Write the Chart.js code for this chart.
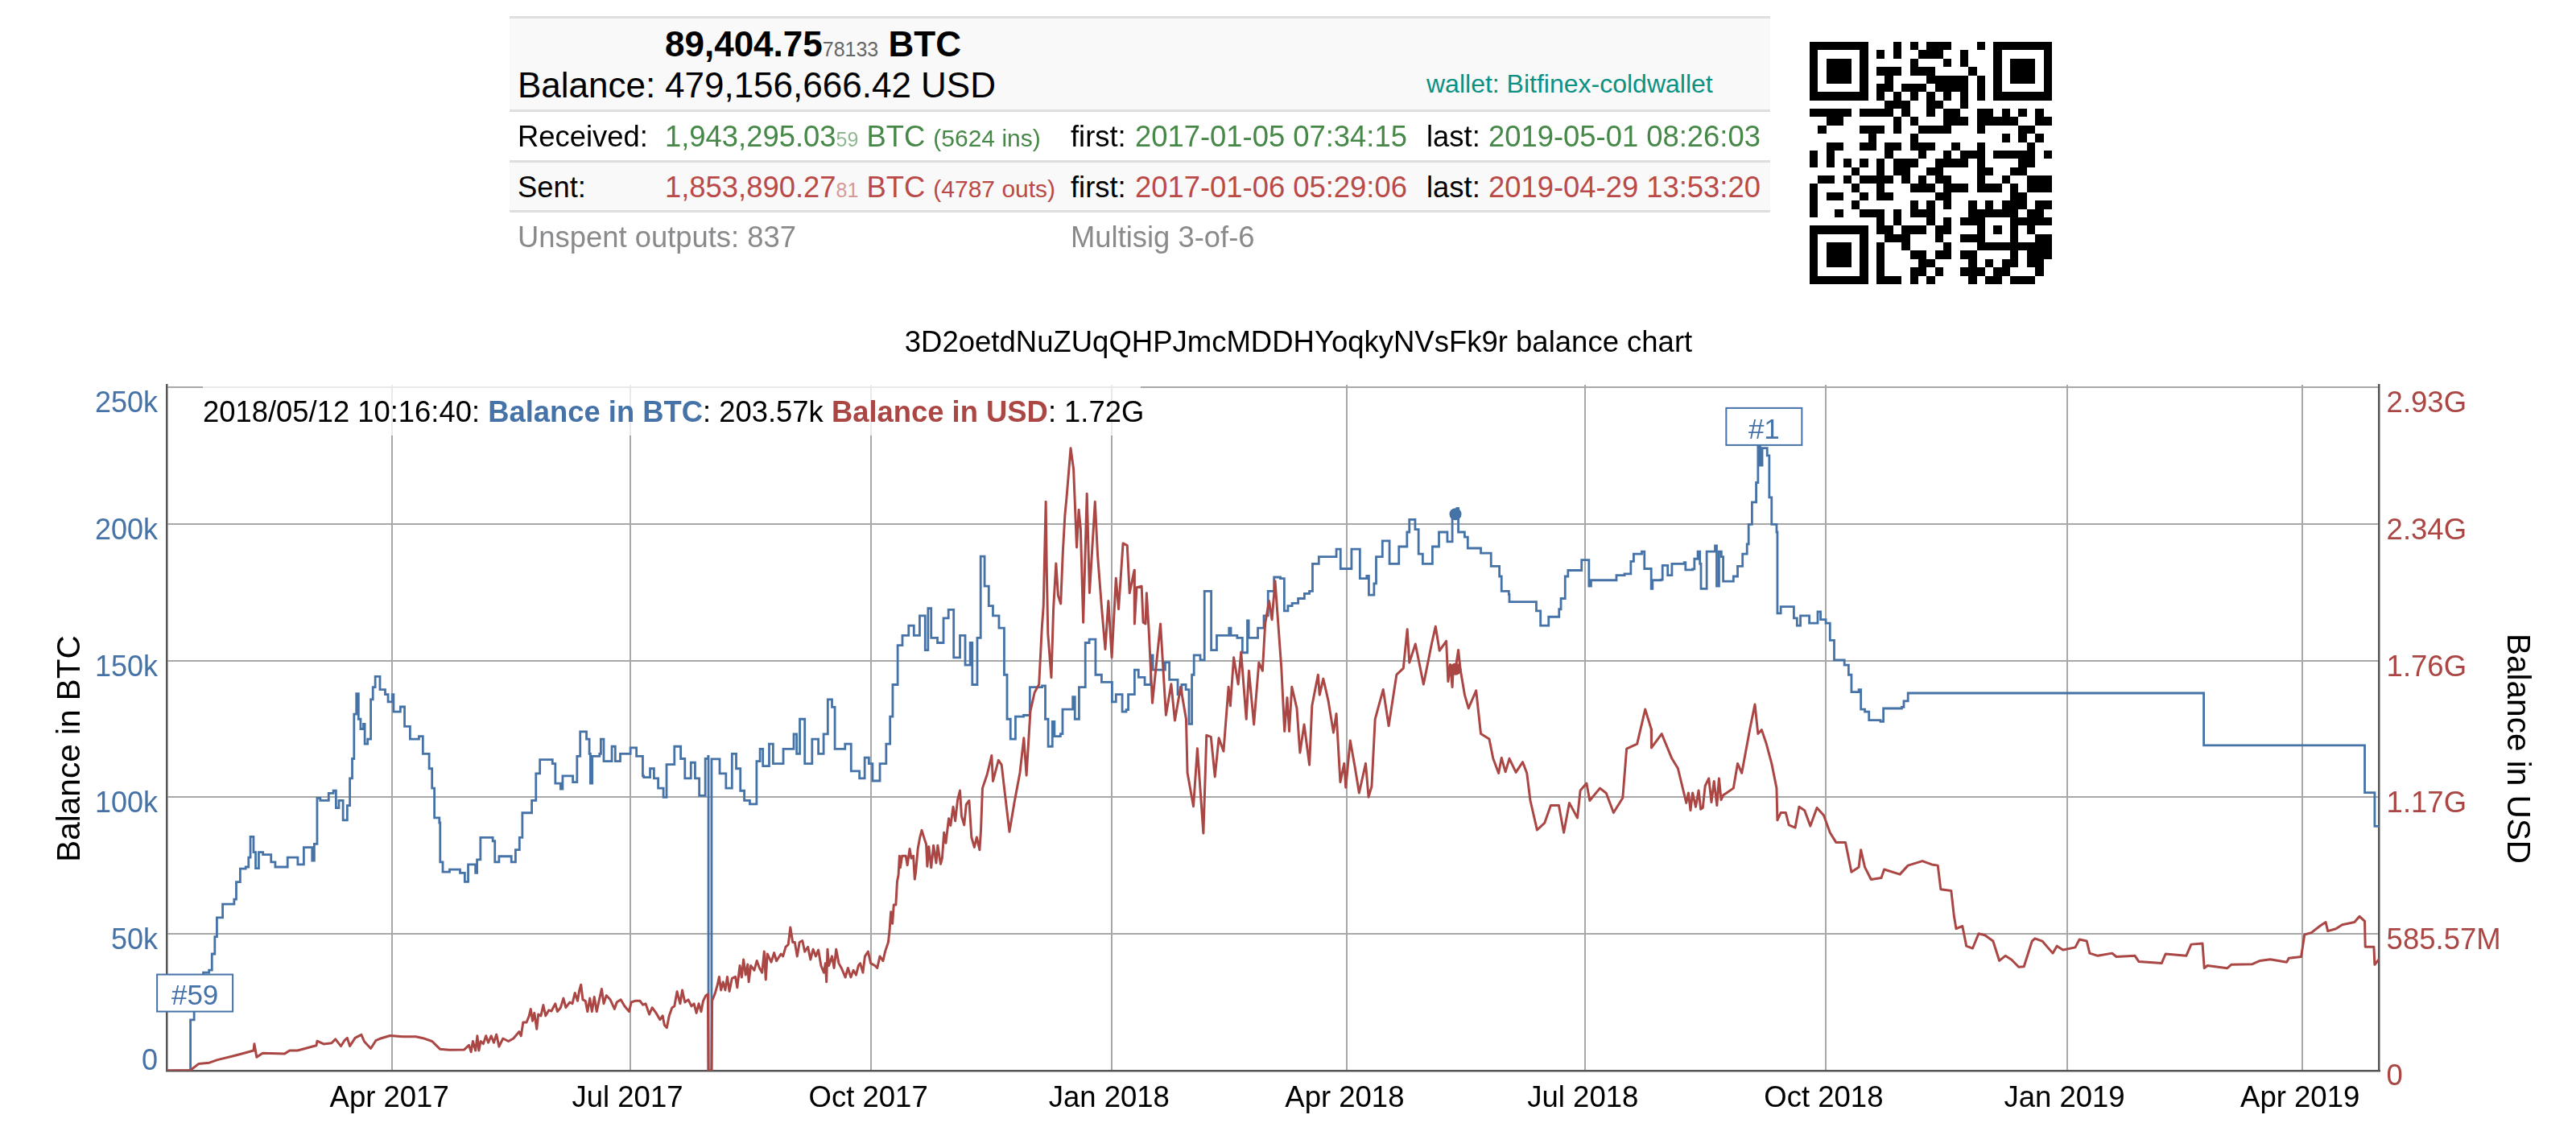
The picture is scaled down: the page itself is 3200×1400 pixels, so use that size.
<!DOCTYPE html>
<html>
<head>
<meta charset="utf-8">
<title>3D2oetdNuZUqQHPJmcMDDHYoqkyNVsFk9r balance chart</title>
<script src="https://cdn.jsdelivr.net/npm/chart.js@4/dist/chart.umd.js"></script>
<style>
html,body{margin:0;padding:0;background:#fff;width:3200px;height:1400px;overflow:hidden;font-family:"Liberation Sans",Arial,sans-serif;color:#000}
#chart{position:absolute;left:0;top:0;width:3200px;height:1400px}
.t{position:absolute;white-space:pre;line-height:1}
.f44{font-size:44px}.f36{font-size:36.4px}.f32{font-size:32px}
.s25{font-size:25px}.s30{font-size:30px}
.g{color:#468847}.r{color:#b94a48}.gy{color:#888a8c}
.band{position:absolute;left:633px;width:1566px;background:#f9f9f9}
.rule{position:absolute;left:633px;width:1566px;height:3px;background:#dedede}
#legend{position:absolute;left:252px;top:478px;width:1165px;height:63px;line-height:67px;font-size:36.4px;background:rgba(255,255,255,.75);white-space:pre}
#qr{position:absolute;left:2248.3px;top:52.3px;width:301px;height:301px}
</style>
</head>
<body>
<canvas id="chart" width="3200" height="1400"></canvas>

<div class="band" style="top:21px;height:116px"></div>
<div class="band" style="top:200px;height:62px"></div>
<div class="rule" style="top:20px"></div>
<div class="rule" style="top:136px"></div>
<div class="rule" style="top:199px"></div>
<div class="rule" style="top:261px"></div>

<div class="t f44" style="left:826px;top:33px;font-weight:bold">89,404.75<span class="s25" style="font-weight:normal;color:#666">78133</span> BTC</div>
<div class="t f44" style="left:643px;top:84px">Balance:</div>
<div class="t f44" style="left:826px;top:84px">479,156,666.42 USD</div>
<div class="t f32" style="left:1772px;top:88px;color:#0a9183">wallet: Bitfinex-coldwallet</div>

<div class="t f36" style="left:643px;top:152px">Received:</div>
<div class="t f36 g" style="left:826px;top:152px">1,943,295.03<span class="s25" style="color:#90b890">59</span> BTC <span class="s30">(5624 ins)</span></div>
<div class="t f36" style="left:1330px;top:152px">first:</div>
<div class="t f36 g" style="left:1410px;top:152px">2017-01-05 07:34:15</div>
<div class="t f36" style="left:1772px;top:152px">last:</div>
<div class="t f36 g" style="left:1849px;top:152px">2019-05-01 08:26:03</div>

<div class="t f36" style="left:643px;top:215px">Sent:</div>
<div class="t f36 r" style="left:826px;top:215px">1,853,890.27<span class="s25" style="color:#d59a98">81</span> BTC <span class="s30">(4787 outs)</span></div>
<div class="t f36" style="left:1330px;top:215px">first:</div>
<div class="t f36 r" style="left:1410px;top:215px">2017-01-06 05:29:06</div>
<div class="t f36" style="left:1772px;top:215px">last:</div>
<div class="t f36 r" style="left:1849px;top:215px">2019-04-29 13:53:20</div>

<div class="t f36 gy" style="left:643px;top:277px">Unspent outputs: 837</div>
<div class="t f36 gy" style="left:1330px;top:277px">Multisig 3-of-6</div>

<svg id="qr" viewBox="0 0 29 29" shape-rendering="crispEdges"></svg>

<div id="legend">2018/05/12 10:16:40: <b style="color:#4572A7">Balance in BTC</b>: 203.57k <b style="color:#AA4643">Balance in USD</b>: 1.72G</div>

<script>
// ---------- chart data (days since 2017-01-05; BTC in thousands; USD in billions) ----------
const chartTitle = "3D2oetdNuZUqQHPJmcMDDHYoqkyNVsFk9r balance chart";
const btcLabel = "Balance in BTC";
const usdLabel = "Balance in USD";

const xTickDays = [86,177,269,361,451,542,634,726,816];
const xTickLabels = ["Apr 2017","Jul 2017","Oct 2017","Jan 2018","Apr 2018","Jul 2018","Oct 2018","Jan 2019","Apr 2019"];
const btcTickValues = [0,50,100,150,200,250];
const btcTickLabels = ["0","50k","100k","150k","200k","250k"];
const usdTickValues = [0,0.58557,1.17114,1.75671,2.34228,2.92785];
const usdTickLabels = ["0","585.57M","1.17G","1.76G","2.34G","2.93G"];

const btcDays = [
0,9.1,10.5,12,14,16.2,17.3,18.4,19.2,21.4,25.8,26.6,28.1,30.2,31.3,32,33.2,34,35.2,36.8,38.3,39.9,41.5,45.4,46.2,49.3,50.1,52.4,54.8,55.6,
56.4,57.5,58.7,61.1,61.9,63.7,64.7,65.8,67.4,69,70,70.9,71.6,72.5,73.3,74.1,75.2,75.7,76.8,78,78.8,79.7,81.5,83.5,84.6,86.2,86.7,89.3,90.9,93,
96.4,97.9,100.3,101.4,102.3,104.2,104.5,105.5,108.1,112.1,113.9,115.2,118,118.6,119.9,124.6,125.4,127,131.7,133.3,134.8,135.9,137.6,139.5,141.1,142.6,147.4,148.5,150.5,151.3,
155.2,156.8,158,160.4,161.5,161.9,162.6,165.4,165.9,167,170.1,171.4,173.3,177.2,179.5,181.9,182.3,184.7,186.2,187.8,189.8,191,194,196.4,198,200.3,201.9,203.5,205.8,206.9,
207,208.2,210.5,211.3,213.7,216,217.6,219.2,220.7,222.8,225.4,226.7,227.8,230.2,231.7,235.6,239.6,240.7,241.9,243.8,246.6,249,251,252.6,254.2,255.3,259.2,261.5,264.7,266.7,
268.3,269.7,272.5,274.9,276.4,277.4,279.3,281.1,283.5,285.5,287.7,289.8,290.9,292.1,294.5,296.8,298.7,300.7,303.1,305.1,307,307.8,309.7,311,312.5,314.1,315.7,318,320,321.1,
322.4,324.3,327.4,329.8,334.5,335.7,336.8,338.4,339.2,341.5,342.3,346.2,347,348.6,351,352.5,354.9,357.2,359.6,361.2,362.7,365.1,366.6,367.4,369.8,371.3,373.7,376,376.8,381.5,
383.1,386.3,387.8,389.4,390.6,391.7,392.5,394.9,396.5,399.1,401.2,405.9,406.6,409,411,412.9,413.4,416.9,419.2,420.8,423.1,425.5,427,428.4,430,432.3,434.7,436.6,437.8,440.2,
445.7,446.9,448.5,450.4,452.7,455,455.9,458.5,459.3,461.3,462.1,464.5,466.5,467.2,469.5,470.8,473.9,474.8,477,478.3,479.9,483,483.6,486.1,489.3,491.2,492.4,493,493.5,495.9,
497.1,502.1,505,506,509.2,510,512.8,513,521,523.3,524.9,528,532,532.7,534.3,535.4,539.5,540.6,543.4,544.2,553.6,553.9,557,559.4,560.5,563.6,564.6,567.2,567.7,570.9,
571.5,573.5,575.1,579.8,580.3,583,583.7,585,585.8,586.2,588.4,591.6,592.2,593.1,594,594.7,598.6,600.2,602.1,603.8,604.4,605.7,607.3,608,608.8,609.6,611.5,612.3,613.2,615.1,
615.4,616.7,620.3,621.7,622.9,624.2,627.3,627.6,630.8,631.9,633.9,635.5,637.1,641,642.6,643.7,646.5,647.3,648.8,650.4,654.8,655.9,662.9,663.7,665.3,778.3,839.8,843.6,845.35
];
const btcValues = [
0,18.6,22,30,35.9,36.8,42.7,49,56,60.9,62.7,69,73.9,74.5,78,85.6,79.9,74,79.9,79,79,76.3,74.5,74.5,78,78,75.4,81.7,81.7,76.8,
82.9,99.7,98.8,98.8,101.5,102.4,96.1,98.8,91.6,97,106.9,114.1,130.4,137.9,128.6,125,126.8,119.5,121.3,135.8,140.3,144.2,139.4,137.6,134.9,137.6,131.3,133.1,125.9,121.3,
122.3,115.9,110.5,103.3,92.5,90.7,76.3,72.7,73.6,72.3,69.1,75.4,72.3,77.2,85.3,84,76.3,78.4,76.3,80.8,85.3,94.3,94.3,98.8,108.7,113.8,112.3,105.1,103,107.8,
105.5,115,124,121.3,115.9,105.1,115,115.9,121.3,113.2,118.6,113.2,115.9,118.1,115,107.8,107.3,110.5,106.9,103.3,100,112,118.6,114.1,106.9,112.7,106.9,100.6,114.1,115,
0,114,114,108.7,103.3,115.9,110.5,102.4,98.8,97.5,113.2,117.7,111.4,119.5,112.3,117.7,123.1,115.9,128.6,112.3,121.3,115.9,123.1,135.8,133,117.7,119.5,109.6,106.9,114.5,
112.3,106,112.3,119.5,129.5,141.2,155.6,159.2,162.8,159.2,166.4,153.8,169.1,158.3,156.5,165.5,168.6,151.1,159.2,148.4,156.5,141.2,158.3,188.1,177.2,170,166.4,161.9,144.8,128.6,
121.3,129.5,130,140.3,140.8,128.6,118.6,127.7,122.3,123.2,132.2,136.7,128.6,140.3,156.5,157.8,144.8,142.1,142.1,134.9,137.6,131.3,132,137.6,146.6,143.9,141.2,152,146.6,149.3,
143,137.6,141.2,139.4,126.8,144.8,152,150.2,175.4,153.8,159.2,161.9,159.2,158.3,152.9,164.6,158.3,161.9,166.4,175.4,180.5,180,168.2,170,171,172.7,174.5,175.4,185.4,188,
188,190.8,183.6,183.6,190.8,190.8,180,181,174,178.2,188,193.8,193.8,185.4,185.4,191.7,197,201.6,198,189,185.4,185.4,191.7,197,193.5,202.5,203.57,205.7,197,195.2,
191.1,189.3,189.3,184.5,180.8,175.4,174.2,171.5,171.5,168.2,162.8,166,168.8,172.7,180.8,183,183,186.8,177.2,179.4,179.4,181.2,181.7,186.3,189,189.9,183.6,176.3,179.4,179.6,
184.8,181.2,185.4,185.9,183.2,183.5,187.2,189.9,185.4,176.3,189.9,192,177.2,189.9,188,179,180.8,184.5,189,192.6,199.8,207.9,215.1,228.6,221.4,227.7,225,209.7,199.8,197,
167.3,169.7,169.7,165.5,162.8,166.4,166.4,163.7,167.9,165,163.7,157.4,150.2,148.4,144.8,138.5,139.4,132.2,131.3,128.2,127.7,132.5,133,135.2,138.1,119,101.7,89.4,89.4
];

const usdDays = [
0,9.1,12.2,16.3,19.4,25.5,29.6,33.2,33.5,34.4,36.7,45,47,50,57.2,57.5,60,63,64.5,66.6,
68,69,70,72,74.4,75.5,78,80,81.5,85.4,90.1,95.2,98,101.4,103,104.5,108,113.7,115.5,116.3,
117,118,118.7,119.3,120,121,122,122.9,124,125,126,127,128.5,130.6,132.5,134.7,135.4,136.2,137.5,138.5,
139.1,139.8,140.5,141.4,142,143,143.9,144.8,146,147,148.5,149.3,150.5,151.6,152.5,154,155,156,157,157.7,
158.3,159,160,160.8,161.7,162.5,163.4,164.3,165.2,166.2,167,168,169.5,171.1,172,173.5,175,176.7,177.5,179,
180.8,182,183,184.4,185.5,187,188.5,189.5,190.2,191.1,192,193.1,194,195,196.2,197,198,199.3,200.5,201.5,
202.4,203.3,204.2,205,206,206.8,207,208.2,208.4,209.5,210.5,211.1,211.8,212.6,213.4,214.2,215,216,217.3,218,
219,219.7,220.4,221.2,222,222.4,223.2,224.5,225.5,226.5,227.5,228.3,228.9,229.5,231,232.1,233,234.7,235.5,236.5,
237.5,238.3,239.2,240,240.9,241.8,242.9,243.8,245,246,247,248,249,250,251.1,251.7,252.1,252.5,253,254.2,
255,255.8,256.8,257.8,259.3,260.3,261.4,262.4,263.4,264.3,265,266,266.8,268,269,270.6,271.5,272.5,273.7,274.5,
275.7,276.2,276.7,277.3,277.8,278.6,279.1,279.6,280,280.3,281,282.4,283,283.9,284.5,285.3,285.8,286.2,287,287.8,
288.5,289.6,290.2,290.6,291.2,292.1,293,294,294.6,295.7,296.3,297,297.7,298.8,299.5,300.5,301.3,302.2,303.1,303.7,
304.7,305.5,306.6,307.5,308.6,309.5,310.6,311.1,311.7,313.5,315.2,315.7,317.8,319,320.3,322,323.9,326,327.5,328.5,
329.5,330,331.6,333.3,334.4,335,335.9,336.2,336.7,338,338.8,339.8,340.6,341.6,342.4,343.2,343.8,345.4,346.5,347.7,
348.5,349.2,350.2,351.6,352.6,354.7,355.7,357.2,358.6,359.8,361.1,362.7,363.7,365.4,367,367.9,369.7,369.8,370.6,372.5,
373.1,374,374.4,375.2,376.6,379.7,381.8,383.8,385.2,387.4,389.5,390,392.3,393.8,396.1,397.3,399,400.5,402,403.8,
405.7,406.4,407.7,409.4,410.5,412.5,413.5,415.4,417.3,418.7,419.7,421.2,422.3,423.5,425.9,427.1,428.1,428.9,429.9,431.8,
433,434.6,436.6,437.6,439.9,440.5,441.9,443.8,445.8,446.9,448.4,449.9,450.5,452.2,454,455.6,458.1,459.2,460.4,461.7,
464.8,466.9,469.9,472.5,474,474.8,477.1,480.2,483.3,484.8,486.3,488.9,489.6,490.4,491.2,491.6,492.4,493.5,494.3,495.9,
497.4,500.3,502.1,505.3,506.8,508.9,510,511.5,513,515.5,518.1,519.7,521,523.6,526.5,528.8,531.9,533.8,535.9,539,
540.1,542.5,543.7,547.6,550,552.8,556.3,557.8,561.8,564.9,567.2,567.3,571.2,575.1,577.4,580.6,581.4,582.2,583,584.2,
585.3,586.1,586.9,587.8,589.2,590.2,591.2,592.3,593.1,593.9,594.7,596,598.6,600.2,601.8,604.9,606.8,608,609.4,611.2,
613.2,615.1,615.4,616.7,618.6,619.8,622.2,623.7,625.8,628,630.5,633.1,635.5,637.8,641.4,643.7,646.5,647.3,648.8,651.2,
655.1,656.2,662.2,665.3,670.8,674.4,676.7,677.8,681.8,682.9,683.7,686.1,687.6,690,692.3,694.7,697.8,700.2,702.5,704.9,
707.6,709.6,712.7,713.8,716.6,720.6,722.2,724.5,729.2,730.8,733.6,734.7,737.8,743.3,744.9,752,753.5,762.2,763.7,771.6,
773.5,777.8,778.5,779.7,787.3,788.8,796.7,799.8,803.7,810,810.8,815.5,816.8,819.4,822.6,824.9,825.7,828.8,831.2,835.9,
837.8,839.8,840,843.3,843.6,845.35
];
const usdValues = [
0,.002,.029,.034,.046,.063,.075,.086,.115,.058,.075,.072,.086,.086,.108,.127,.114,.118,.135,.105,
.13,.14,.105,.14,.154,.125,.095,.13,.137,.15,.146,.146,.139,.126,.108,.092,.089,.09,.109,.08,
.126,.086,.149,.086,.126,.115,.149,.12,.149,.12,.155,.103,.138,.126,.138,.167,.149,.207,.207,.235,
.264,.213,.247,.178,.241,.235,.281,.235,.259,.255,.287,.253,.27,.31,.27,.293,.287,.333,.299,.345,
.368,.304,.299,.253,.31,.253,.316,.253,.299,.35,.287,.322,.304,.264,.293,.304,.276,.253,.293,.299,
.299,.282,.287,.241,.27,.247,.218,.235,.195,.184,.235,.27,.276,.339,.287,.345,.293,.304,.276,.287,
.247,.287,.253,.299,.322,.328,0,0,.299,.33,.37,.402,.345,.38,.345,.402,.34,.395,.402,.356,
.45,.40,.476,.41,.455,.38,.45,.43,.471,.44,.42,.51,.39,.50,.465,.505,.47,.50,.49,.53,
.54,.614,.55,.55,.49,.55,.557,.51,.53,.476,.52,.49,.517,.45,.42,.46,.38,.52,.45,.49,
.44,.52,.46,.44,.40,.44,.40,.43,.41,.45,.46,.42,.49,.51,.46,.45,.44,.49,.47,.51,
.55,.60,.68,.63,.71,.71,.81,.84,.92,.87,.92,.92,.88,.95,.91,.92,.82,.85,.95,1.0,
1.03,.99,.97,.875,.96,.87,.965,.89,.965,.885,.91,1.02,.975,1.08,1.05,1.13,1.07,1.16,1.2,1.09,
1.052,1.14,1.157,1.0,.957,1.0,.946,1.03,1.21,1.27,1.35,1.24,1.33,1.31,1.184,1.023,1.15,1.276,1.425,1.265,
1.448,1.54,1.62,1.655,1.897,1.99,2.437,2.173,1.874,1.684,1.977,2.173,2.035,2.0,2.219,2.38,2.45,2.667,2.576,2.242,
2.403,2.32,1.92,2.472,2.047,2.437,2.208,1.989,1.805,2.012,1.77,2.11,1.977,2.259,2.25,2.046,2.144,1.914,2.07,2.075,
1.92,1.914,2.046,1.9,1.575,1.914,1.523,1.656,1.5,1.644,1.506,1.276,1.132,1.38,1.017,1.437,1.43,1.259,1.425,1.368,
1.644,1.563,1.77,1.655,1.793,1.506,1.713,1.483,1.748,1.713,1.914,2.012,1.932,2.098,1.725,1.454,1.598,1.454,1.644,1.552,
1.362,1.483,1.31,1.563,1.696,1.61,1.679,1.586,1.448,1.529,1.236,1.316,1.213,1.414,1.3,1.19,1.316,1.172,1.218,1.506,
1.633,1.477,1.696,1.724,1.891,1.748,1.828,1.655,1.828,1.903,1.799,1.84,1.667,1.74,1.643,1.734,1.72,1.802,1.717,1.611,
1.552,1.628,1.443,1.421,1.337,1.274,1.34,1.28,1.337,1.278,1.322,1.274,1.157,1.031,1.062,1.136,1.136,1.02,1.147,1.083,
1.2,1.231,1.157,1.21,1.189,1.105,1.168,1.379,1.4,1.548,1.464,1.383,1.443,1.337,1.295,1.147,1.19,1.115,1.19,1.13,
1.2,1.12,1.126,1.22,1.252,1.15,1.24,1.136,1.252,1.16,1.18,1.19,1.21,1.316,1.275,1.464,1.569,1.443,1.46,1.4,
1.316,1.21,1.073,1.105,1.105,1.052,1.041,1.13,1.115,1.048,1.126,1.094,1.02,.978,.978,.851,.872,.946,.872,.819,
.826,.862,.841,.879,.898,.883,.879,.777,.771,.661,.608,.619,.534,.524,.587,.58,.555,.471,.492,.475,
.444,.446,.555,.566,.555,.503,.534,.517,.528,.562,.555,.503,.492,.503,.488,.492,.467,.46,.5,.492,
.541,.545,.439,.45,.439,.454,.456,.471,.477,.465,.482,.488,.583,.591,.619,.636,.598,.608,.625,.636,
.661,.64,.53,.53,.454,.479
];

const highlightDay = 492.4;
const noteLabels = ["#59","#1"];
const noteDays = [10.8,610.3];
const noteValues = [28.4,235.6];

// QR code: black module columns for each row, outside the finder squares
const qrBlack = [
[10,12,14,15,16,20],[8,10,13,14,15,18],[12,16,18],[8,9,10,12,13,14,19],[9,14,15,16,17,18,20],[8,9,11,12,13,15,16,17,18,20],[8,10,12,14,16,18,20],
[9,10,11,14,15,18],[0,1,2,3,4,6,7,8,9,11,14,16,17,20,21,23,25,27],[2,3,10,12,16,17,18,20,21,22,23,24,27,28],[1,6,7,8,10,13,14,15,16,20,25,26],
[7,12,23,25,27],[2,3,6,7,9,10,12,13,14,17,20,26],[0,2,9,13,16,18,19,20,22,23,24,25,26,28],[0,2,4,6,8,10,11,12,15,16,17,18,20,25,26],
[5,8,10,11,14,15,20,21,24,25],[1,2,4,6,7,8,9,11,13,15,16,20,23,26,27,28],[0,5,8,12,13,14,16,17,18,20,21,22,24,26,27,28],
[0,2,3,6,8,9,15,16,24,25],[0,5,12,14,16,19,21,23,24,25,27,28],[0,3,6,7,8,10,12,13,14,19,20,21,22,23,24,26,27],
[8,10,14,16,18,19,20,24,25,26,27,28],[8,9,11,12,13,15,16,20,22,24,26],[9,10,11,15,18,19,20,24,27,28],[8,11,16,20,21,22,23,24,25,26,27,28],
[8,12,13,15,16,18,19,24,26,27,28],[8,13,14,19,21,23,24,26,27],[8,12,13,15,18,19,20,22,23,27],[8,9,10,12,14,19,21,22,24,25,26]
];

// ---------- QR ----------
(function(){
  const svg = document.getElementById('qr');
  let s = '';
  const rect = (x,y,w,h,c) => '<rect x="'+x+'" y="'+y+'" width="'+w+'" height="'+h+'" fill="'+c+'"/>';
  [[0,0],[22,0],[0,22]].forEach(p => {
    s += rect(p[0],p[1],7,7,'#000') + rect(p[0]+1,p[1]+1,5,5,'#fff') + rect(p[0]+2,p[1]+2,3,3,'#000');
  });
  qrBlack.forEach((cols,r) => cols.forEach(c => { s += rect(c,r,1,1,'#000'); }));
  svg.innerHTML = s;
})();

// ---------- chart ----------
const BLUE = '#4572A7', RED = '#AA4643', GRID = 'rgb(168,168,168)', AXIS = '#555';
const FONT = '"Liberation Sans", Arial, sans-serif';
Chart.defaults.font.family = FONT;

const toPoints = (xs, ys) => xs.map((x,i) => ({x:x, y:ys[i]}));
const btcHi = btcDays.indexOf(highlightDay);
const usdHi = usdDays.indexOf(highlightDay);

// per-axis vertical nudges of the tick labels (the first and last sit inside the plot)
const labelNudge = {
  y:  t => t === 0 ? -11 : t === 250 ? 21 : 9,
  y2: t => t === 0 ? 8 : t === 2.92785 ? 21 : 9
};

const axisTweaks = {
  id:'axisTweaks',
  beforeDraw(chart){
    if (chart.$tweaked) return;
    chart.$tweaked = true;
    ['y','y2'].forEach(id => {
      const sc = chart.scales[id];
      sc.getLabelItems().forEach((item,i) => {
        item.options.translation[1] += labelNudge[id](sc.ticks[i].value);
      });
      const orig = sc.drawTitle;
      sc.drawTitle = function(){
        this.top += 26; this.bottom += 26;
        orig.apply(this, arguments);
        this.top -= 26; this.bottom -= 26;
      };
    });
  }
};

const notes = {
  id:'notes',
  afterDatasetsDraw(chart){
    const {ctx, scales} = chart;
    ctx.save();
    noteLabels.forEach((text,i) => {
      const cx = scales.x.getPixelForValue(noteDays[i]);
      const cy = scales.y.getPixelForValue(noteValues[i]);
      ctx.fillStyle = '#fff';
      ctx.strokeStyle = BLUE;
      ctx.lineWidth = 2;
      ctx.fillRect(cx-47, cy-23, 94, 46);
      ctx.strokeRect(cx-47, cy-23, 94, 46);
      ctx.fillStyle = BLUE;
      ctx.font = '35px ' + FONT;
      ctx.textAlign = 'center';
      ctx.textBaseline = 'middle';
      ctx.fillText(text, cx, cy+5);
    });
    ctx.restore();
  }
};

new Chart(document.getElementById('chart'), {
  type:'line',
  plugins:[axisTweaks, notes],
  data:{
    datasets:[
      {label:btcLabel, yAxisID:'y', data:toPoints(btcDays,btcValues), order:2, stepped:true,
       borderColor:BLUE, backgroundColor:BLUE, borderWidth:2.8, borderJoinStyle:'miter', tension:0,
       pointRadius:c => c.dataIndex===btcHi ? 7.5 : 0, pointBorderWidth:0, pointBackgroundColor:BLUE, pointHoverRadius:0},
      {label:usdLabel, yAxisID:'y2', data:toPoints(usdDays,usdValues), order:1,
       borderColor:RED, backgroundColor:RED, borderWidth:3, borderJoinStyle:'round', tension:0,
       pointRadius:c => c.dataIndex===usdHi ? 7.5 : 0, pointBorderWidth:0, pointBackgroundColor:RED, pointHoverRadius:0}
    ]
  },
  options:{
    responsive:false,
    devicePixelRatio:1,
    animation:false,
    events:[],
    layout:{padding:{left:26,right:0,top:405,bottom:0}},
    plugins:{
      legend:{display:false},
      tooltip:{enabled:false},
      title:{display:true,text:chartTitle,color:'#000',font:{size:36.5,weight:'normal',lineHeight:1.2},padding:{top:0,bottom:29.2}}
    },
    scales:{
      x:{
        type:'linear',min:0,max:845.35,
        afterBuildTicks:s => { s.ticks = xTickDays.map(v => ({value:v})); },
        afterFit:s => { s.height = 70; },
        grid:{color:GRID,lineWidth:2,drawTicks:false},
        border:{color:AXIS,width:2.5},
        ticks:{autoSkip:false,maxRotation:0,color:'#000',font:{size:36.5},padding:13,labelOffset:-3,
          callback:v => xTickLabels[xTickDays.indexOf(v)]}
      },
      y:{
        position:'left',min:0,max:250.88,
        afterBuildTicks:s => { s.ticks = btcTickValues.map(v => ({value:v})); },
        afterFit:s => { s.width = 181; },
        grid:{color:GRID,lineWidth:2,drawTicks:false},
        border:{color:AXIS,width:2.5},
        ticks:{color:BLUE,font:{size:36},padding:11,callback:v => btcTickLabels[btcTickValues.indexOf(v)]},
        title:{display:true,text:btcLabel,color:'#000',font:{size:40.5,weight:'normal'},padding:{top:38,bottom:0}}
      },
      y2:{
        position:'right',min:0,max:2.9382,
        afterBuildTicks:s => { s.ticks = usdTickValues.map(v => ({value:v})); },
        afterFit:s => { s.width = 244.4; },
        grid:{drawOnChartArea:false,drawTicks:false},
        border:{color:AXIS,width:2.5},
        ticks:{color:RED,font:{size:36.5},padding:9,callback:v => usdTickLabels[usdTickValues.indexOf(v)]},
        title:{display:true,text:usdLabel,color:'#000',font:{size:40.5,weight:'normal'},padding:{top:50,bottom:0}}
      }
    }
  }
});
</script>
</body>
</html>
